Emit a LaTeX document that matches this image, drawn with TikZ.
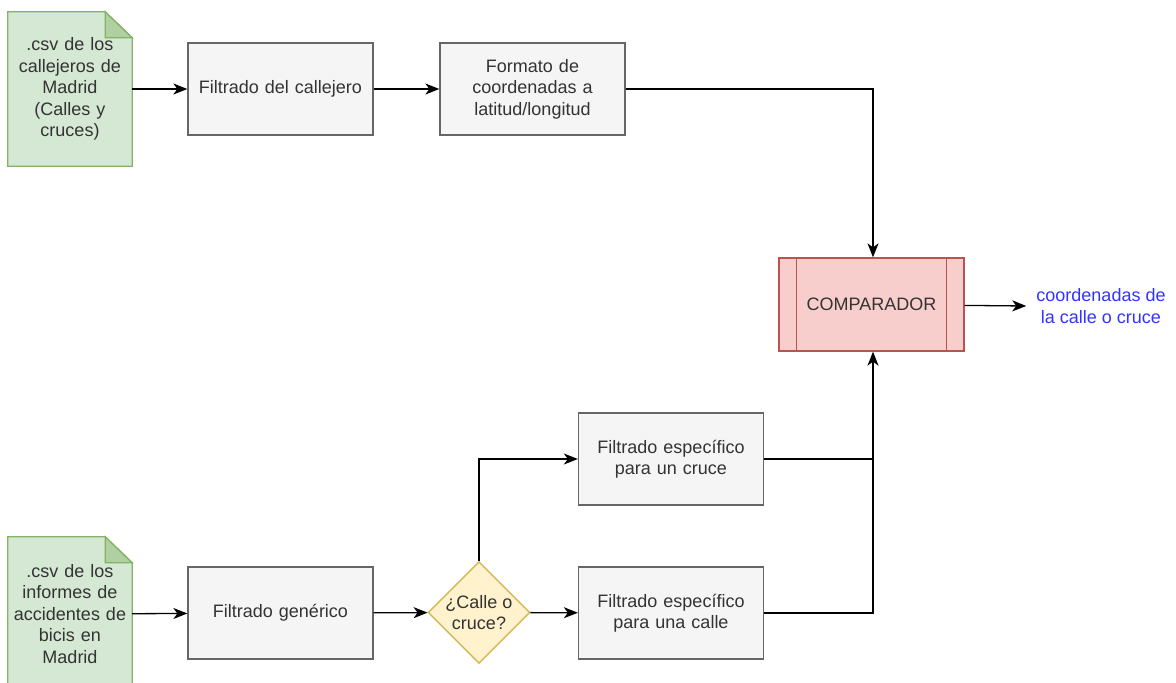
\documentclass[tikz,border=0pt]{standalone}
\usepackage{fontspec}
\setmainfont{Liberation Sans}
\usepackage{xcolor}
\usepackage{tikz}
\usetikzlibrary{shapes.geometric, arrows.meta, positioning}

\begin{document}
\begin{tikzpicture}[x=1pt, y=-1pt, >={Stealth[length=14pt, width=11pt, inset=4pt]},
    font=\fontsize{18}{21.5}\selectfont]
  \definecolor{docfill}{HTML}{D5E8D4}
  \definecolor{docline}{HTML}{82B366}
  \definecolor{boxfill}{HTML}{F5F5F5}
  \definecolor{boxline}{HTML}{666666}
  \definecolor{boxtext}{HTML}{333333}
  \definecolor{cmpfill}{HTML}{F8CECC}
  \definecolor{cmpline}{HTML}{B85450}
  \definecolor{askfill}{HTML}{FFF2CC}
  \definecolor{askline}{HTML}{D6B656}
  \definecolor{outtext}{HTML}{3333FF}

  \tikzset{
    docbox/.style={rectangle, minimum width=124pt, minimum height=154pt, inner sep=2pt,
      text width=118pt, align=center, text=boxtext},
    stepbox/.style={draw=boxline, fill=boxfill, line width=1.3pt, rectangle,
      minimum width=185pt, minimum height=92pt, text width=175pt, align=center, text=boxtext},
    flow/.style={->, line width=1.3pt},
  }

  \useasboundingbox (0,0) rectangle (1176,683);

  % Define positions
  \node (calles) [docbox] at (70,89) {};
  \node (informes) [docbox] at (70,614) {};
  \foreach \doc in {calles, informes} {
    \draw[fill=docfill, draw=docline, line width=1.3pt]
      (\doc.north west) -- ([xshift=-27pt]\doc.north east) -- ([yshift=-26pt]\doc.north east)
      -- (\doc.south east) -- (\doc.south west) -- cycle;
    \draw[fill=docline!45!docfill, draw=docline, line width=1.3pt]
      ([xshift=-27pt]\doc.north east) -- ([xshift=-27pt, yshift=-26pt]\doc.north east)
      -- ([yshift=-26pt]\doc.north east) -- cycle;
  }
  \node [docbox] at (calles) {.csv de los\\callejeros de\\Madrid\\(Calles y\\cruces)};
  \node [docbox] at (informes) {.csv de los\\informes de\\accidentes de\\bicis en\\Madrid};

  \node (filtcalle) [stepbox] at (280.5,89) {Filtrado del callejero};
  \node (formato) [stepbox] at (532.5,89) {Formato de\\coordenadas a\\latitud/longitud};
  \node (generico) [stepbox] at (280.5,613) {Filtrado gen\'erico};
  \node (pregunta) [diamond, draw=askline, fill=askfill, line width=1.3pt, minimum width=100pt,
    minimum height=85pt, inner sep=0pt, align=center, text=boxtext] at (479,612.5) {¿Calle o\\cruce?};
  \node (cruce) [stepbox] at (671,459) {Filtrado espec\'ifico\\para un cruce};
  \node (calle) [stepbox] at (671,613) {Filtrado espec\'ifico\\para una calle};

  \node (comparador) [rectangle, draw=cmpline, fill=cmpfill, line width=1.3pt, minimum width=185pt,
    minimum height=93pt, text=boxtext] at (871.5,304.5) {COMPARADOR};
  \draw[draw=cmpline, line width=1.3pt] ([xshift=18pt]comparador.north west) -- ([xshift=18pt]comparador.south west);
  \draw[draw=cmpline, line width=1.3pt] ([xshift=-18pt]comparador.north east) -- ([xshift=-18pt]comparador.south east);

  \node (salida) [align=center, text=outtext, inner sep=0pt] at (1101,306) {coordenadas de\\la calle o cruce};

  % Arrows
  \draw[flow] (calles) -- (filtcalle);
  \draw[flow] (filtcalle) -- (formato);
  \draw[flow] (formato.east) -| ([xshift=1.5pt]comparador.north);
  \draw[flow] (comparador) -- ([xshift=-10pt]salida.west);
  \draw[flow] (informes) -- (generico);
  \draw[flow] (generico) -- (pregunta);
  \draw[flow] (pregunta) -- (calle);
  \draw[flow] (pregunta.north) |- (cruce.west);
  \draw[flow] (calle.east) -| ([xshift=1.5pt]comparador.south);
  \coordinate (junta) at ([xshift=1.5pt]comparador.south |- cruce.east);
  \draw[line width=1.3pt] (cruce.east) -- (junta); % joins the rising line
\end{tikzpicture}
\end{document}
